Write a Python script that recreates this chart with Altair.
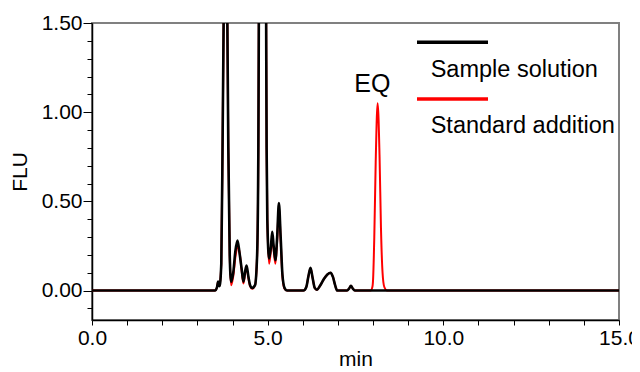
import altair as alt
import pandas as pd

# ---- data ----
black_t = [0.00, 3.50, 3.56, 3.59, 3.63, 3.68, 3.72, 3.755, 3.80, 3.845, 3.88, 3.92, 3.96,
           4.02, 4.08, 4.14, 4.20, 4.26, 4.31, 4.36, 4.40, 4.45, 4.50, 4.56, 4.64, 4.70, 4.735,
           4.75, 4.80, 4.85, 4.90, 4.955, 4.97, 4.99, 5.04, 5.09, 5.13, 5.17, 5.22, 5.27, 5.32,
           5.37, 5.42, 5.48, 5.55, 6.02, 6.10, 6.16, 6.22, 6.28, 6.34, 6.40, 6.50, 6.60, 6.70,
           6.79, 6.86, 6.92, 6.98, 7.26, 7.32, 7.37, 7.42, 7.48, 15.00]
black_v = [0.00, 0.00, 0.02, 0.05, 0.025, 0.15, 0.9, 1.7, 2.6, 1.7, 0.8, 0.2, 0.05,
           0.10, 0.22, 0.28, 0.21, 0.12, 0.05, 0.11, 0.14, 0.08, 0.03, 0.015, 0.03, 0.20, 0.8,
           1.6, 4.0, 5.0, 4.0, 1.6, 0.8, 0.4, 0.18, 0.24, 0.33, 0.25, 0.17, 0.30, 0.49,
           0.30, 0.09, 0.015, 0.00, 0.00, 0.02, 0.08, 0.127, 0.07, 0.015, 0.005, 0.03, 0.065, 0.09,
           0.10, 0.075, 0.03, 0.00, 0.00, 0.012, 0.027, 0.012, 0.00, 0.00]

red_t = [0.00, 3.50, 3.56, 3.59, 3.63, 3.68, 3.72, 3.755, 3.80, 3.845, 3.88, 3.92, 3.96,
         4.02, 4.09, 4.16, 4.21, 4.26, 4.31, 4.36, 4.40, 4.45, 4.50, 4.56, 4.64, 4.70, 4.735,
         4.75, 4.80, 4.85, 4.90, 4.955, 4.97, 4.99, 5.04, 5.09, 5.13, 5.17, 5.22, 5.27, 5.32,
         5.37, 5.42, 5.48, 5.55, 6.02, 6.10, 6.16, 6.22, 6.28, 6.34, 6.40, 6.50, 6.60, 6.70,
         6.79, 6.86, 6.92, 6.98, 7.26, 7.32, 7.37, 7.42, 7.48, 7.93, 7.98, 8.00, 8.035, 8.075,
         8.13, 8.185, 8.225, 8.27, 8.32, 8.40, 15.00]
red_v = [0.00, 0.00, 0.02, 0.05, 0.025, 0.15, 0.9, 1.7, 2.6, 1.7, 0.8, 0.2, 0.03,
         0.08, 0.20, 0.245, 0.20, 0.11, 0.04, 0.10, 0.13, 0.07, 0.025, 0.01, 0.03, 0.20, 0.8,
         1.6, 4.0, 5.0, 4.0, 1.6, 0.8, 0.4, 0.15, 0.22, 0.30, 0.23, 0.15, 0.28, 0.47,
         0.28, 0.08, 0.01, 0.00, 0.00, 0.02, 0.08, 0.125, 0.07, 0.015, 0.005, 0.03, 0.065, 0.09,
         0.10, 0.075, 0.03, 0.00, 0.00, 0.012, 0.027, 0.012, 0.00, 0.00, 0.02, 0.06, 0.30, 0.72,
         1.05, 0.75, 0.35, 0.10, 0.02, 0.00, 0.00]

series_names = ["Sample solution", "Standard addition"]
series_colors = ["#000000", "#ff0000"]

ann_text = ["EQ"]
ann_t = [7.98]
ann_v = [1.113]

x_ticks = list(range(0, 16))
y_ticks = [-0.1, 0.0, 0.1, 0.2, 0.3, 0.4, 0.5, 0.6, 0.7, 0.8, 0.9, 1.0, 1.1, 1.2, 1.3, 1.4, 1.5]

FONT = "Liberation Sans"

df = pd.concat([
    pd.DataFrame({"t": red_t, "v": red_v, "s": series_names[1]}),
    pd.DataFrame({"t": black_t, "v": black_v, "s": series_names[0]}),
], ignore_index=True)

major_y = "abs(datum.value*2 - round(datum.value*2)) < 0.001"

x_axis = alt.Axis(values=x_ticks, title="min", grid=False,
                  labelExpr="abs(datum.value % 5) < 0.001 ? format(datum.value, '.1f') : ''",
                  labelFlush=False, labelOverlap=False, labelBound=False,
                  tickSize=5, labelPadding=2, titlePadding=0)
y_axis = alt.Axis(values=y_ticks, title="FLU", grid=False,
                  labelExpr=f"{major_y} ? format(datum.value, '.2f') : ''",
                  labelOverlap=False, labelFlush=False, labelBound=False,
                  tickSize={"condition": {"test": major_y, "value": 9}, "value": 5},
                  labelPadding=1, titlePadding=11)
x_scale = alt.Scale(domain=[0, 15], nice=False, zero=False)
y_scale = alt.Scale(domain=[-0.165, 1.5], nice=False, zero=False)

red_line = alt.Chart(df).transform_filter(
    alt.datum.s == series_names[1]
).mark_line(color=series_colors[1], strokeWidth=2, clip=True, interpolate="monotone").encode(
    x=alt.X("t:Q", scale=x_scale, axis=x_axis), y=alt.Y("v:Q", scale=y_scale, axis=y_axis))

black_line = alt.Chart(df).transform_filter(
    alt.datum.s == series_names[0]
).mark_line(color=series_colors[0], strokeWidth=2.6, clip=True, interpolate="monotone").encode(
    x=alt.X("t:Q", scale=x_scale, axis=x_axis), y=alt.Y("v:Q", scale=y_scale, axis=y_axis))

ann = alt.Chart(pd.DataFrame({"t": ann_t, "v": ann_v, "label": ann_text})).mark_text(
    font=FONT, fontSize=25, color="black", align="center", baseline="alphabetic"
).encode(x=alt.X("t:Q", scale=x_scale, axis=x_axis), y=alt.Y("v:Q", scale=y_scale, axis=y_axis),
         text="label:N")

leg_df = pd.DataFrame({"s": series_names, "c": series_colors})
leg_layers = []
for i, (yl, yt) in enumerate([(19.3, 53.5), (76.0, 110.0)]):
    one = leg_df.iloc[[i]]
    leg_layers.append(alt.Chart(one).mark_rule(color=series_colors[i], strokeWidth=3.5).encode(
        x=alt.value(325), x2=alt.value(396), y=alt.value(yl)))
    leg_layers.append(alt.Chart(one).mark_text(
        font=FONT, fontSize=23.5, color="black", align="left", baseline="alphabetic"
    ).encode(x=alt.value(338.7), y=alt.value(yt), text="s:N"))

chart = alt.layer(red_line, black_line, ann, *leg_layers).properties(
    width=527, height=297,
    autosize=alt.AutoSizeParams(type="none"),
    padding={"left": 84, "top": 15, "right": 13, "bottom": 52},
    background="white",
).configure_view(
    stroke="#808080", strokeWidth=2
).configure_axis(
    domainColor="black", domainWidth=1.5, tickColor="black", tickWidth=1,
    labelFont=FONT, labelFontSize=21, labelColor="black", labelOverlap=False,
    titleFont=FONT, titleFontSize=21, titleColor="black", titleFontWeight="normal",
)

chart.save("out.html", embed_options={"renderer": "svg", "actions": False})
